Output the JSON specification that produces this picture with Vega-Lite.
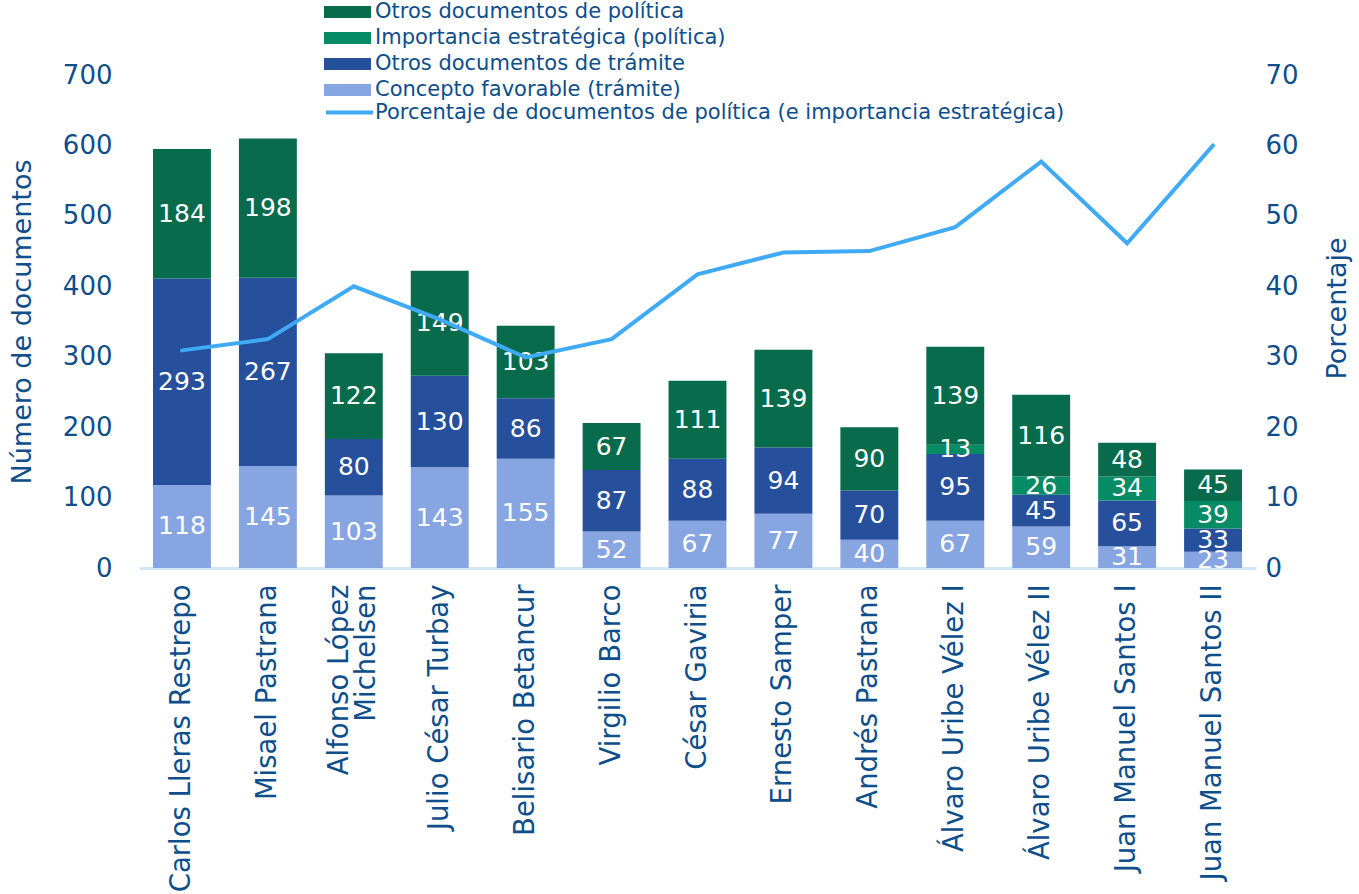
{
  "$schema": "https://vega.github.io/schema/vega-lite/v6.json",
  "autosize": {"type": "none"},
  "padding": {"left": 139, "top": 75, "right": 103, "bottom": 326},
  "width": 1117,
  "height": 493,
  "background": "white",
  "config": {
    "view": {"stroke": null},
    "font": "DejaVu Sans",
    "axis": {"labelColor": "#0d4e8b", "titleColor": "#0d4e8b", "labelFont": "DejaVu Sans", "titleFont": "DejaVu Sans", "titleFontWeight": "normal", "grid": false, "ticks": false, "labelOverlap": false},
    "legend": {"labelFont": "DejaVu Sans", "labelColor": "#0d4e8b", "labelFontSize": 21, "padding": 0, "labelLimit": 900}
  },
  "datasets": {
    "docs": [
      {"presidente": "Carlos Lleras Restrepo", "categoria": "Concepto favorable (trámite)", "orden": 1, "valor": 118},
      {"presidente": "Carlos Lleras Restrepo", "categoria": "Otros documentos de trámite", "orden": 2, "valor": 293},
      {"presidente": "Carlos Lleras Restrepo", "categoria": "Otros documentos de política", "orden": 4, "valor": 184},
      {"presidente": "Misael Pastrana", "categoria": "Concepto favorable (trámite)", "orden": 1, "valor": 145},
      {"presidente": "Misael Pastrana", "categoria": "Otros documentos de trámite", "orden": 2, "valor": 267},
      {"presidente": "Misael Pastrana", "categoria": "Otros documentos de política", "orden": 4, "valor": 198},
      {"presidente": "Alfonso López Michelsen", "categoria": "Concepto favorable (trámite)", "orden": 1, "valor": 103},
      {"presidente": "Alfonso López Michelsen", "categoria": "Otros documentos de trámite", "orden": 2, "valor": 80},
      {"presidente": "Alfonso López Michelsen", "categoria": "Otros documentos de política", "orden": 4, "valor": 122},
      {"presidente": "Julio César Turbay", "categoria": "Concepto favorable (trámite)", "orden": 1, "valor": 143},
      {"presidente": "Julio César Turbay", "categoria": "Otros documentos de trámite", "orden": 2, "valor": 130},
      {"presidente": "Julio César Turbay", "categoria": "Otros documentos de política", "orden": 4, "valor": 149},
      {"presidente": "Belisario Betancur", "categoria": "Concepto favorable (trámite)", "orden": 1, "valor": 155},
      {"presidente": "Belisario Betancur", "categoria": "Otros documentos de trámite", "orden": 2, "valor": 86},
      {"presidente": "Belisario Betancur", "categoria": "Otros documentos de política", "orden": 4, "valor": 103},
      {"presidente": "Virgilio Barco", "categoria": "Concepto favorable (trámite)", "orden": 1, "valor": 52},
      {"presidente": "Virgilio Barco", "categoria": "Otros documentos de trámite", "orden": 2, "valor": 87},
      {"presidente": "Virgilio Barco", "categoria": "Otros documentos de política", "orden": 4, "valor": 67},
      {"presidente": "César Gaviria", "categoria": "Concepto favorable (trámite)", "orden": 1, "valor": 67},
      {"presidente": "César Gaviria", "categoria": "Otros documentos de trámite", "orden": 2, "valor": 88},
      {"presidente": "César Gaviria", "categoria": "Otros documentos de política", "orden": 4, "valor": 111},
      {"presidente": "Ernesto Samper", "categoria": "Concepto favorable (trámite)", "orden": 1, "valor": 77},
      {"presidente": "Ernesto Samper", "categoria": "Otros documentos de trámite", "orden": 2, "valor": 94},
      {"presidente": "Ernesto Samper", "categoria": "Otros documentos de política", "orden": 4, "valor": 139},
      {"presidente": "Andrés Pastrana", "categoria": "Concepto favorable (trámite)", "orden": 1, "valor": 40},
      {"presidente": "Andrés Pastrana", "categoria": "Otros documentos de trámite", "orden": 2, "valor": 70},
      {"presidente": "Andrés Pastrana", "categoria": "Otros documentos de política", "orden": 4, "valor": 90},
      {"presidente": "Álvaro Uribe Vélez I", "categoria": "Concepto favorable (trámite)", "orden": 1, "valor": 67},
      {"presidente": "Álvaro Uribe Vélez I", "categoria": "Otros documentos de trámite", "orden": 2, "valor": 95},
      {"presidente": "Álvaro Uribe Vélez I", "categoria": "Importancia estratégica (política)", "orden": 3, "valor": 13},
      {"presidente": "Álvaro Uribe Vélez I", "categoria": "Otros documentos de política", "orden": 4, "valor": 139},
      {"presidente": "Álvaro Uribe Vélez II", "categoria": "Concepto favorable (trámite)", "orden": 1, "valor": 59},
      {"presidente": "Álvaro Uribe Vélez II", "categoria": "Otros documentos de trámite", "orden": 2, "valor": 45},
      {"presidente": "Álvaro Uribe Vélez II", "categoria": "Importancia estratégica (política)", "orden": 3, "valor": 26},
      {"presidente": "Álvaro Uribe Vélez II", "categoria": "Otros documentos de política", "orden": 4, "valor": 116},
      {"presidente": "Juan Manuel Santos I", "categoria": "Concepto favorable (trámite)", "orden": 1, "valor": 31},
      {"presidente": "Juan Manuel Santos I", "categoria": "Otros documentos de trámite", "orden": 2, "valor": 65},
      {"presidente": "Juan Manuel Santos I", "categoria": "Importancia estratégica (política)", "orden": 3, "valor": 34},
      {"presidente": "Juan Manuel Santos I", "categoria": "Otros documentos de política", "orden": 4, "valor": 48},
      {"presidente": "Juan Manuel Santos II", "categoria": "Concepto favorable (trámite)", "orden": 1, "valor": 23},
      {"presidente": "Juan Manuel Santos II", "categoria": "Otros documentos de trámite", "orden": 2, "valor": 33},
      {"presidente": "Juan Manuel Santos II", "categoria": "Importancia estratégica (política)", "orden": 3, "valor": 39},
      {"presidente": "Juan Manuel Santos II", "categoria": "Otros documentos de política", "orden": 4, "valor": 45}
    ],
    "pct": [
      {"presidente": "Carlos Lleras Restrepo", "porcentaje": 30.9},
      {"presidente": "Misael Pastrana", "porcentaje": 32.5},
      {"presidente": "Alfonso López Michelsen", "porcentaje": 40.0},
      {"presidente": "Julio César Turbay", "porcentaje": 35.3},
      {"presidente": "Belisario Betancur", "porcentaje": 29.9},
      {"presidente": "Virgilio Barco", "porcentaje": 32.5},
      {"presidente": "César Gaviria", "porcentaje": 41.7},
      {"presidente": "Ernesto Samper", "porcentaje": 44.8},
      {"presidente": "Andrés Pastrana", "porcentaje": 45.0},
      {"presidente": "Álvaro Uribe Vélez I", "porcentaje": 48.4},
      {"presidente": "Álvaro Uribe Vélez II", "porcentaje": 57.7},
      {"presidente": "Juan Manuel Santos I", "porcentaje": 46.1},
      {"presidente": "Juan Manuel Santos II", "porcentaje": 60.0}
    ]
  },
  "encoding": {
    "x": {
      "field": "presidente",
      "type": "nominal",
      "sort": ["Carlos Lleras Restrepo", "Misael Pastrana", "Alfonso López Michelsen", "Julio César Turbay", "Belisario Betancur", "Virgilio Barco", "César Gaviria", "Ernesto Samper", "Andrés Pastrana", "Álvaro Uribe Vélez I", "Álvaro Uribe Vélez II", "Juan Manuel Santos I", "Juan Manuel Santos II"],
      "scale": {"paddingInner": 0.326, "paddingOuter": 0.163},
      "axis": {
        "title": null,
        "labelAngle": 270,
        "labelFontSize": 27.5,
        "labelPadding": 16,
        "labelLimit": 400,
        "labelLineHeight": 27,
        "labelExpr": "datum.value == 'Alfonso López Michelsen' ? ['Alfonso López', 'Michelsen'] : datum.value",
        "labelOffset": {"expr": "datum.value == 'Alfonso López Michelsen' ? -14 : 0"},
        "domainColor": "#cfe7f9",
        "domainWidth": 3
      }
    }
  },
  "layer": [
    {
      "data": {"name": "docs"},
      "mark": {"type": "bar"},
      "encoding": {
        "y": {
          "field": "valor",
          "type": "quantitative",
          "stack": "zero",
          "scale": {"domain": [0, 700], "nice": false},
          "axis": {"title": "Número de documentos", "titleFontSize": 27, "labelFontSize": 26, "labelPadding": 27, "titlePadding": 26, "values": [0, 100, 200, 300, 400, 500, 600, 700], "domain": false}
        },
        "fill": {
          "field": "categoria",
          "type": "nominal",
          "scale": {
            "domain": ["Otros documentos de política", "Importancia estratégica (política)", "Otros documentos de trámite", "Concepto favorable (trámite)"],
            "range": ["#076b4c", "#078b64", "#264f9c", "#87a5e0"]
          },
          "legend": {
            "title": null,
            "orient": "none",
            "legendX": 192.5,
            "legendY": -79,
            "symbolType": "M-1.47,-0.37L1.47,-0.37L1.47,0.37L-1.47,0.37Z",
            "symbolSize": 1024,
            "symbolStrokeWidth": 0,
            "labelOffset": 11.5,
            "rowPadding": -20
          }
        },
        "order": {"field": "orden", "type": "quantitative", "sort": "ascending"}
      }
    },
    {
      "data": {"name": "docs"},
      "transform": [
        {"stack": "valor", "groupby": ["presidente"], "sort": [{"field": "orden", "order": "ascending"}], "as": ["v0", "v1"]},
        {"calculate": "(datum.v0 + datum.v1) / 2", "as": "vmid"}
      ],
      "mark": {"type": "text", "color": "white", "font": "DejaVu Sans", "fontSize": 25, "baseline": "middle", "align": "center"},
      "encoding": {
        "y": {"field": "vmid", "type": "quantitative", "scale": {"domain": [0, 700], "nice": false}, "axis": null},
        "text": {"field": "valor", "type": "quantitative"}
      }
    },
    {
      "data": {"name": "pct"},
      "mark": {"type": "line", "strokeWidth": 4, "strokeCap": "round", "strokeJoin": "miter"},
      "encoding": {
        "y": {
          "field": "porcentaje",
          "type": "quantitative",
          "scale": {"domain": [0, 70], "nice": false},
          "axis": {"title": "Porcentaje", "orient": "right", "titleAngle": 270, "titleFontSize": 27, "labelFontSize": 26, "labelPadding": 9, "titlePadding": 53, "titleY": 233, "values": [0, 10, 20, 30, 40, 50, 60, 70], "domain": false}
        },
        "stroke": {
          "datum": "Porcentaje de documentos de política (e importancia estratégica)",
          "type": "nominal",
          "scale": {"range": ["#40aaf5"]},
          "legend": {
            "title": null,
            "orient": "none",
            "legendX": 185,
            "legendY": 12,
            "symbolType": "stroke",
            "symbolSize": 2209,
            "symbolStrokeWidth": 4,
            "labelOffset": 0
          }
        }
      }
    }
  ],
  "resolve": {"scale": {"y": "independent"}}
}
